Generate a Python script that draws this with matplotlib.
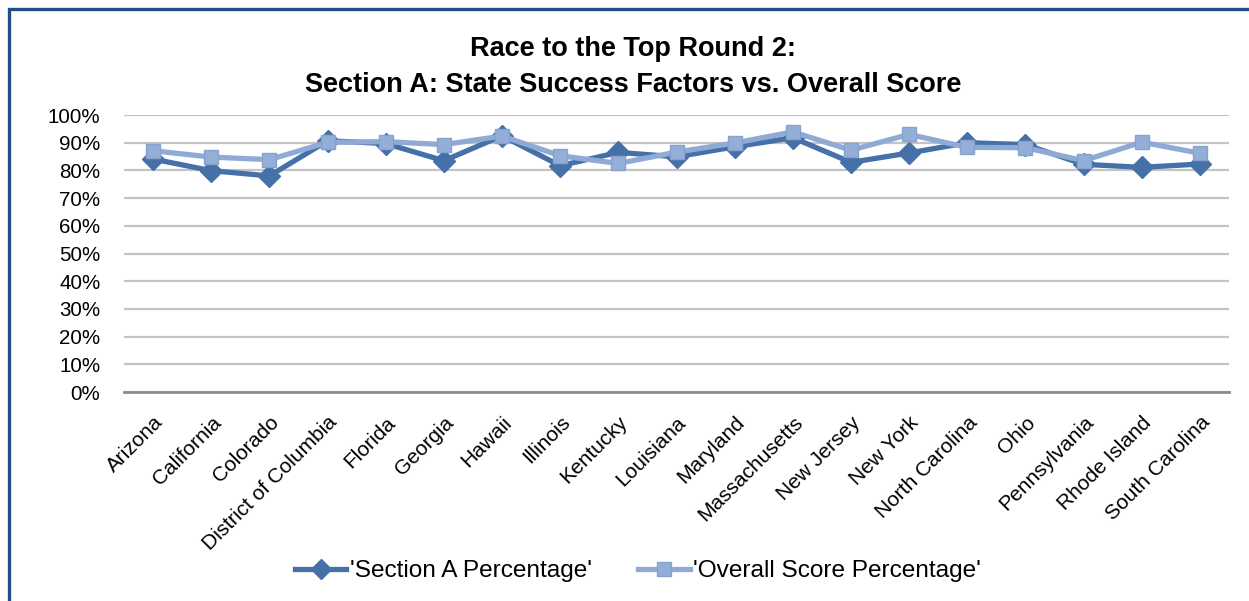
import matplotlib
matplotlib.use("Agg")
import matplotlib.pyplot as plt
from matplotlib.patches import Rectangle
from matplotlib.ticker import PercentFormatter
import numpy as np

states = ["Arizona", "California", "Colorado", "District of Columbia", "Florida",
          "Georgia", "Hawaii", "Illinois", "Kentucky", "Louisiana", "Maryland",
          "Massachusetts", "New Jersey", "New York", "North Carolina", "Ohio",
          "Pennsylvania", "Rhode Island", "South Carolina"]
section_a = [84.1, 79.9, 78.0, 90.7, 89.7, 83.5, 92.5, 81.7, 86.5, 84.9, 88.5,
             91.8, 82.9, 86.3, 90.0, 89.3, 82.2, 81.1, 82.3]
overall = [87.1, 84.8, 83.9, 90.1, 90.4, 89.3, 92.4, 85.3, 82.5, 86.6, 89.9,
           93.9, 87.3, 93.0, 88.3, 88.2, 83.5, 90.2, 86.2]
yticks = [0, 10, 20, 30, 40, 50, 60, 70, 80, 90, 100]

title = "Race to the Top Round 2:\nSection A: State Success Factors vs. Overall Score"
label_a = "'Section A Percentage'"
label_o = "'Overall Score Percentage'"

W, H = 1249, 601
fig = plt.figure(figsize=(W / 100, H / 100), dpi=100)
fig.patch.set_facecolor("white")

# outer frame (partially cropped at right/bottom)
fig.patches.append(Rectangle((9 / W, -0.1), 1.2, 1 - 9 / H + 0.1,
                             transform=fig.transFigure, fill=False,
                             edgecolor="#234D86", linewidth=2.4, zorder=0))

ax = fig.add_axes([124 / W, 1 - 392 / H, (1229 - 124) / W, (392 - 115) / H])
x = np.arange(len(states))

dark = "#4571A8"
light = "#8FAAD4"
ax.plot(x, section_a, color=dark, lw=3.8, marker="D", ms=11,
        markeredgecolor=dark, label=label_a, zorder=3)
ax.plot(x, overall, color=light, lw=3.8, marker="s", ms=10,
        markeredgecolor="#86A3CE", markerfacecolor="#93AFD8",
        label=label_o, zorder=4)

ax.set_xlim(-0.5, len(states) - 0.5)
ax.set_ylim(0, 100)
ax.set_yticks(yticks)
ax.yaxis.set_major_formatter(PercentFormatter(decimals=0))
ax.grid(axis="y", color="#C4C4C4", lw=1.6)
ax.set_axisbelow(True)
for s in ["top", "right", "left"]:
    ax.spines[s].set_visible(False)
ax.spines["bottom"].set_color("#8C8C8C")
ax.spines["bottom"].set_linewidth(2)
ax.tick_params(axis="both", length=0)
ax.tick_params(axis="y", pad=17, labelsize=14.8)
ax.set_xticks(x)
ax.set_xticklabels(states, rotation=45, ha="right", rotation_mode="anchor",
                   fontsize=15)
ax.tick_params(axis="x", pad=15)
for lab in ax.get_xticklabels() + ax.get_yticklabels():
    lab.set_family(["Liberation Sans", "DejaVu Sans"])

fig.text(633 / W, 1 - 67 / H, title, ha="center", va="center",
         fontsize=19.5, fontweight="bold", linespacing=1.55,
         family=["Liberation Sans", "DejaVu Sans"])

leg = fig.legend(loc="center", bbox_to_anchor=(638 / W, 1 - 571 / H), ncol=2,
                 frameon=False, handlelength=2.1, handletextpad=0.15,
                 columnspacing=1.9,
                 prop={"family": ["Liberation Sans", "DejaVu Sans"], "size": 17.6})
for h in leg.legend_handles:
    h.set_markersize(10)

fig.savefig("out.png", dpi=100)
